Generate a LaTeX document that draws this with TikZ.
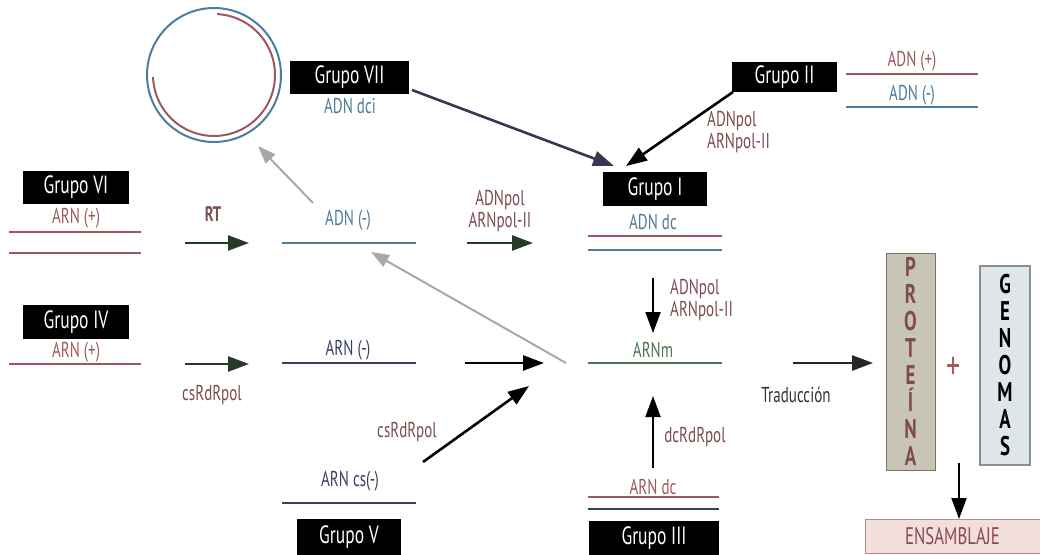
\documentclass[tikz,border=0pt]{standalone}
\usepackage{fontspec}
\setmainfont{PT Sans}[FakeStretch=0.7, BoldFont={PT Sans Bold}]
\usetikzlibrary{arrows.meta}
\definecolor{redline}{HTML}{A0575C}
\definecolor{blueline}{HTML}{4C7CA0}
\definecolor{redtext}{HTML}{7E4B50}
\definecolor{bluetext}{HTML}{4F7A99}
\definecolor{greenarrow}{HTML}{243B2A}
\definecolor{greentext}{HTML}{4F7357}
\definecolor{navy}{HTML}{3A3F5C}
\definecolor{purplearrow}{HTML}{3E3355}
\definecolor{greyarrow}{HTML}{A8A8A8}
\definecolor{protfill}{HTML}{C9C5B5}
\definecolor{protdraw}{HTML}{7A7264}
\definecolor{genfill}{HTML}{DFE6EA}
\definecolor{gendraw}{HTML}{8A8F94}
\definecolor{ensfill}{HTML}{F3DEDE}
\definecolor{ensdraw}{HTML}{B58A8A}
\definecolor{enstext}{HTML}{8A4A50}
\tikzset{
  grupo/.style={fill=black, text=white, inner sep=0pt, minimum height=33pt, font=\fontsize{25}{27}\selectfont},
  lbl/.style={inner sep=0pt, font=\fontsize{21.5}{24}\selectfont},
  strand/.style={line width=2pt},
  bigarrow/.style={line width=2.6pt, -{Triangle[length=21pt,width=15pt]}},
  greyarr/.style={line width=2pt, greyarrow, -{Triangle[length=18pt,width=13pt]}},
  vbox/.style={inner sep=0pt, align=center, font=\bfseries\fontsize{27}{27}\selectfont}
}
\begin{document}
\begin{tikzpicture}[x=1pt,y=-1pt]
\useasboundingbox (0,0) rectangle (1040,554);
% circle
\draw[blueline, line width=2pt] (214,75) circle[radius=67pt];
\draw[redline, line width=2pt] plot[domain=87:-178, samples=90] ({214+61*cos(\x)},{75-61*sin(\x)});
% Grupo VII
\node[grupo, minimum width=119pt] (g7) at (349.5,77) {Grupo VII};
\node[lbl, text=bluetext] (adndci) at (350,106) {ADN dci};
% Grupo II
\node[grupo, minimum width=105pt, minimum height=30pt] (g2) at (784.5,77) {Grupo II};
\node[lbl, text=redline] (adnp) at (912,61) {ADN (+)};
\coordinate (adnpL) at (846,74); \coordinate (adnpR) at (978,74);
\draw[strand, redline] (adnpL) -- (adnpR);
\node[lbl, text=bluetext] (adnm2) at (912,95) {ADN (-)};
\coordinate (adnmL) at (846,107); \coordinate (adnmR) at (978,107);
\draw[strand, blueline] (adnmL) -- (adnmR);
% Grupo I
\node[grupo, minimum width=104pt, minimum height=34pt] (g1) at (655,189) {Grupo I};
\node[lbl, text=bluetext] (adndc) at (653,222) {ADN dc};
\coordinate (g1aL) at (588,236); \coordinate (g1aR) at (722,236);
\coordinate (g1bL) at (588,250); \coordinate (g1bR) at (722,250);
\draw[strand, redline] (g1aL) -- (g1aR);
\draw[strand, blueline] (g1bL) -- (g1bR);
% arrows into Grupo I
\coordinate (g7out) at (412,90);
\coordinate (g1inA) at (614,166);
\draw[bigarrow, purplearrow] (g7out) -- (g1inA);
\coordinate (g2out) at (733,92);
\coordinate (g1inB) at (626,166);
\draw[bigarrow, black] (g2out) -- (g1inB);
\node[lbl, text=redtext, anchor=west] (pol2a) at (707,121) {ADNpol};
\node[lbl, text=redtext, anchor=west] (pol2b) at (707,143) {ARNpol-II};
% Grupo VI
\node[grupo, minimum width=106pt] (g6) at (76,187.5) {Grupo VI};
\node[lbl, text=redline] (arnp6) at (76,218) {ARN (+)};
\coordinate (g6aL) at (9,232); \coordinate (g6aR) at (141,232);
\coordinate (g6bL) at (9,253); \coordinate (g6bR) at (141,253);
\draw[strand, redline] (g6aL) -- (g6aR);
\draw[strand, redline] (g6bL) -- (g6bR);
\node[lbl, text=redtext, font=\bfseries\fontsize{21}{24}\selectfont] (rt) at (213,214) {RT};
\coordinate (rtA) at (185,243); \coordinate (rtB) at (249,243);
\draw[bigarrow, greenarrow] (rtA) -- (rtB);
% ADN (-)
\node[lbl, text=bluetext] (adnm) at (348,220) {ADN (-)};
\coordinate (adnmidL) at (282,243); \coordinate (adnmidR) at (416,243);
\draw[strand, blueline] (adnmidL) -- (adnmidR);
\coordinate (grA) at (313,203); \coordinate (grB) at (258,146);
\draw[greyarr] (grA) -- (grB);
\node[lbl, text=redtext] (pol1a) at (500,200) {ADNpol};
\node[lbl, text=redtext] (pol1b) at (500,222) {ARNpol-II};
\coordinate (pA) at (467,243); \coordinate (pB) at (533,243);
\draw[bigarrow, greenarrow] (pA) -- (pB);
% long grey arrow
\coordinate (gr2A) at (566,363); \coordinate (gr2B) at (371,252);
\draw[greyarr] (gr2A) -- (gr2B);
% Down arrow to ARNm
\coordinate (dA) at (653,278); \coordinate (dB) at (653,333);
\draw[bigarrow, black, line width=2pt] (dA) -- (dB);
\node[lbl, text=redtext, anchor=west] (pol3a) at (670,289) {ADNpol};
\node[lbl, text=redtext, anchor=west] (pol3b) at (670,311) {ARNpol-II};
% ARNm
\node[lbl, text=greentext] (arnm) at (653,350) {ARNm};
\coordinate (arnmL) at (588,363); \coordinate (arnmR) at (722,363);
\draw[strand, greentext] (arnmL) -- (arnmR);
% Grupo IV
\node[grupo, minimum width=106pt, minimum height=34pt] (g4) at (76,322) {Grupo IV};
\node[lbl, text=redline] (arnp4) at (76,352) {ARN (+)};
\coordinate (g4L) at (9,364); \coordinate (g4R) at (141,364);
\draw[strand, redline] (g4L) -- (g4R);
\coordinate (c4A) at (185,364); \coordinate (c4B) at (249,364);
\draw[bigarrow, greenarrow] (c4A) -- (c4B);
\node[lbl, text=redtext] (cs4) at (212,395) {csRdRpol};
% ARN (-)
\node[lbl, text=navy] (arnmin) at (348,350) {ARN (-)};
\coordinate (arnminL) at (282,363); \coordinate (arnminR) at (416,363);
\draw[strand, navy] (arnminL) -- (arnminR);
\coordinate (bA) at (465,363); \coordinate (bB) at (544,363);
\draw[bigarrow, black] (bA) -- (bB);
% Grupo V
\coordinate (b5A) at (423,462); \coordinate (b5B) at (529,386);
\draw[bigarrow, black] (b5A) -- (b5B);
\node[lbl, text=redtext] (cs5) at (407,432) {csRdRpol};
\node[lbl, text=navy] (arncs) at (350,481) {ARN cs(-)};
\coordinate (g5L) at (282,503); \coordinate (g5R) at (416,503);
\draw[strand, navy] (g5L) -- (g5R);
\node[grupo, minimum width=104pt, minimum height=36pt] (g5) at (349,537) {Grupo V};
% Grupo III
\coordinate (uA) at (653,468); \coordinate (uB) at (653,396);
\draw[bigarrow, black, line width=2pt] (uA) -- (uB);
\node[lbl, text=redtext] (dc3) at (695,437) {dcRdRpol};
\node[lbl, text=redline] (arndc) at (653,487) {ARN dc};
\coordinate (g3aL) at (588,497); \coordinate (g3aR) at (719,497);
\coordinate (g3bL) at (588,509); \coordinate (g3bR) at (719,509);
\draw[strand, redline] (g3aL) -- (g3aR);
\draw[strand, navy] (g3bL) -- (g3bR);
\node[grupo, minimum width=130pt, minimum height=34pt] (g3) at (654,538) {Grupo III};
% Traduccion
\coordinate (tA) at (793,363); \coordinate (tB) at (873,363);
\draw[bigarrow, black!85] (tA) -- (tB);
\node[lbl, text=black!80] (trad) at (796,395) {Traducción};
% Proteina / Genomas
\node[vbox, fill=protfill, draw=protdraw, line width=1pt, text=redtext, minimum width=49pt, minimum height=217pt] (prot) at (910.5,361.5) {P\\R\\O\\T\\E\\Í\\N\\A};
\node[lbl, text=redline, font=\fontsize{40}{40}\selectfont] (plus) at (954,368) {+};
\node[vbox, fill=genfill, draw=gendraw, line width=1.5pt, text=black, minimum width=50pt, minimum height=199pt] (gen) at (1005,365.5) {G\\E\\N\\O\\M\\A\\S};
\coordinate (eA) at (959,463); \coordinate (eB) at (959,519);
\draw[bigarrow, black, line width=2pt] (eA) -- (eB);
\node[lbl, fill=ensfill, draw=ensdraw, line width=1pt, text=enstext, minimum width=175pt, minimum height=34pt, font=\fontsize{24}{26}\selectfont] (ens) at (952.5,536) {ENSAMBLAJE};
\end{tikzpicture}
\end{document}
